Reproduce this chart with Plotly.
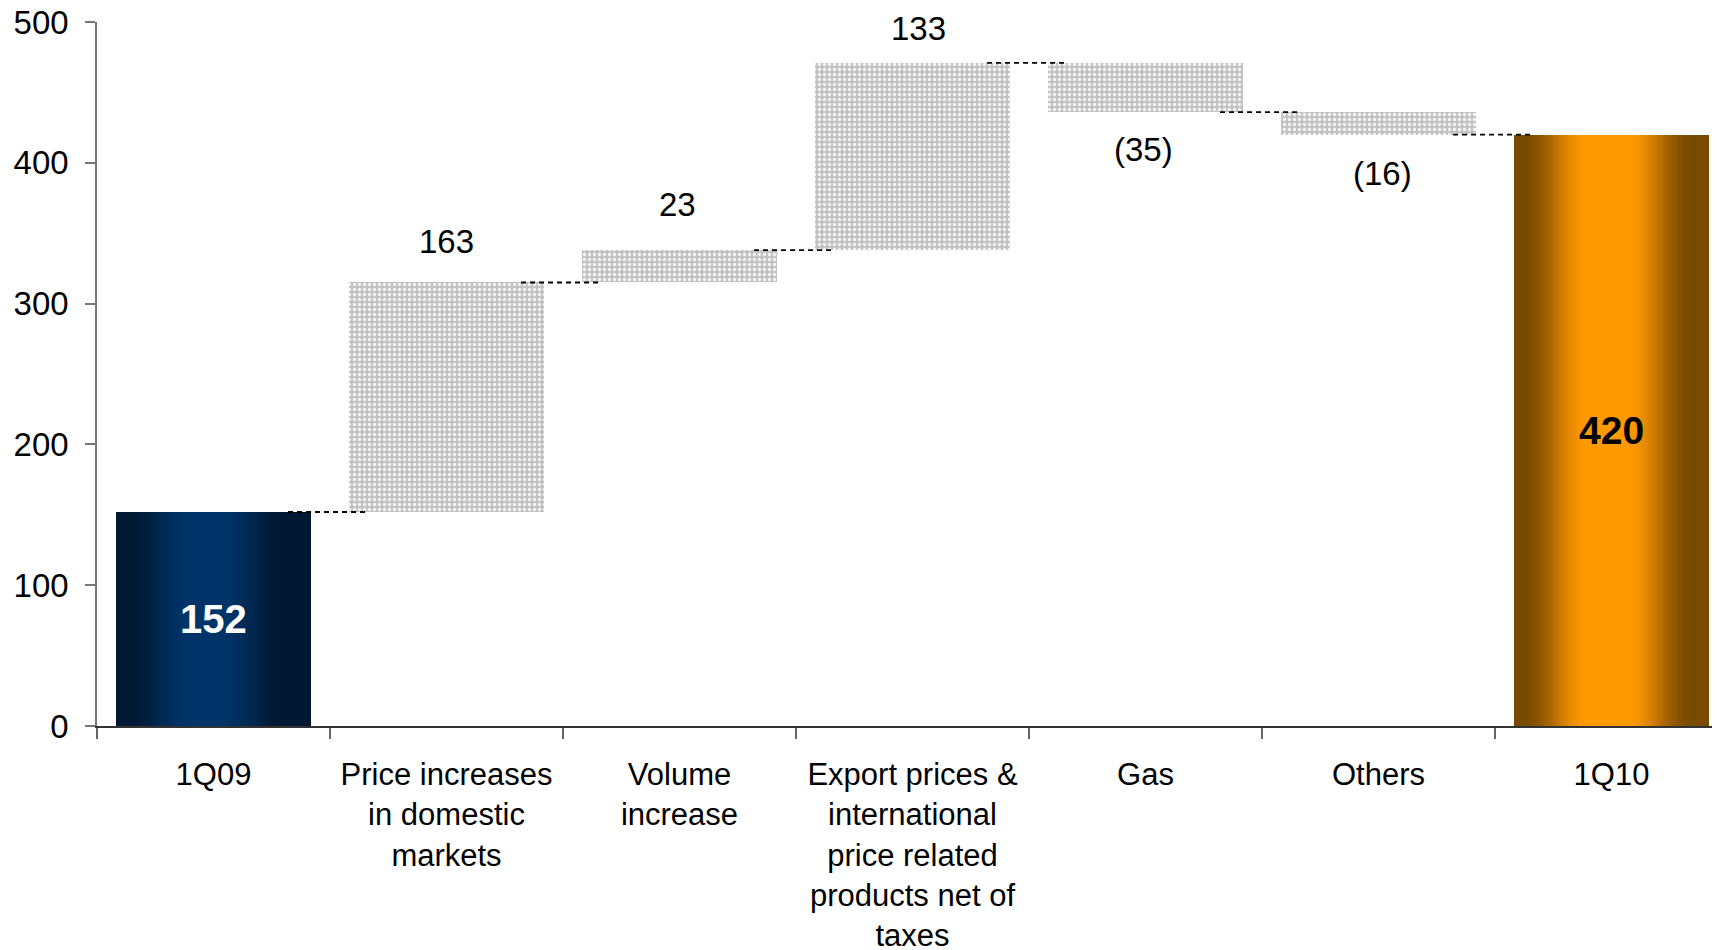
import plotly.graph_objects as go

# ---- data ----
categories = ["1Q09", "Price increases<br>in domestic<br>markets", "Volume<br>increase",
              "Export prices &<br>international<br>price related<br>products net of<br>taxes",
              "Gas", "Others", "1Q10"]
start_value = 152
deltas = [163, 23, 133, -35, -16]
end_value = 420
y_ticks = [0, 100, 200, 300, 400, 500]

# ---- style ----
FONT = "Liberation Sans, Arial, sans-serif"
BAR_W = 0.84
label_shift = [41, 46, 34, -37, -39]
label_xshift = [0, -2, 6, -2, 4]

fig = go.Figure()


def lerp(c1, c2, f):
    return "rgb(%d,%d,%d)" % tuple(round(a + (b - a) * f) for a, b in zip(c1, c2))


def gradient_bar(xpos, value, dark, bright, peak, plateau, fade, n=90):
    step = BAR_W / n
    offs, cols = [], []
    for i in range(n):
        t = (i + 0.5) / n
        d = abs(t - peak)
        if d < plateau:
            f = 1.0
        elif d > fade:
            f = 0.0
        else:
            s = (d - plateau) / (fade - plateau)
            f = 1 - (s * s * (3 - 2 * s))
        offs.append(-BAR_W / 2 + i * step)
        cols.append(lerp(dark, bright, f))
    fig.add_trace(go.Bar(
        x=[xpos] * n, y=[value] * n, base=[0] * n,
        offset=offs, width=[step * 1.6] * (n - 1) + [step],
        marker=dict(color=cols, line=dict(width=0)),
        hoverinfo="skip", showlegend=False))


# start / end gradient bars
gradient_bar(0, start_value, (1, 24, 50), (0, 52, 104), 0.46, 0.08, 0.40)
gradient_bar(len(categories) - 1, end_value, (122, 74, 0), (255, 153, 0), 0.48, 0.10, 0.43)

# floating grey bars
bases, heights, xs = [], [], []
running = start_value
totals = [running]
for i, d in enumerate(deltas):
    new = running + d
    bases.append(min(running, new))
    heights.append(abs(d))
    xs.append(i + 1)
    running = new
    totals.append(running)

fig.add_trace(go.Bar(
    x=xs, y=heights, base=bases, width=BAR_W,
    marker=dict(color="#c2c2c2", line=dict(width=0),
                pattern=dict(shape=".", fgcolor="#f4f4f4", bgcolor="#c2c2c2",
                             size=5, solidity=0.35, fillmode="replace")),
    hoverinfo="skip", showlegend=False))

# dashed connectors
cx, cy = [], []
for i, tval in enumerate(totals):
    cx += [i + 0.32, i + 0.655, None]
    cy += [tval, tval, None]
fig.add_trace(go.Scatter(x=cx, y=cy, mode="lines",
                         line=dict(color="#000000", width=1.8, dash="5px,4px"),
                         hoverinfo="skip", showlegend=False))

annotations = []
for i, d in enumerate(deltas):
    top = max(totals[i], totals[i + 1])
    bot = min(totals[i], totals[i + 1])
    txt = str(d) if d > 0 else "(%d)" % abs(d)
    annotations.append(dict(x=i + 1, y=top if d > 0 else bot, xref="x", yref="y",
                            text=txt, showarrow=False, yanchor="middle",
                            yshift=label_shift[i], xshift=label_xshift[i],
                            font=dict(family=FONT, size=33, color="#000000")))
annotations.append(dict(x=0, y=start_value / 2, xref="x", yref="y",
                        text="<b>%d</b>" % start_value, showarrow=False,
                        font=dict(family=FONT, size=40, color="#ffffff")))
annotations.append(dict(x=len(categories) - 1, y=end_value / 2, xref="x", yref="y",
                        text="<b>%d</b>" % end_value, showarrow=False,
                        font=dict(family=FONT, size=39, color="#000000")))

fig.update_layout(
    width=1720, height=950,
    margin=dict(l=89, r=0, t=14, b=232),
    paper_bgcolor="white", plot_bgcolor="white",
    barmode="overlay", bargap=0,
    font=dict(family=FONT, size=31, color="#000000"),
    annotations=annotations,
    showlegend=False,
)
fig.update_xaxes(
    range=[-0.5, 6.5], tickmode="array", automargin=False,
    tickvals=list(range(len(categories))), ticktext=categories,
    ticks="", showgrid=False, zeroline=False,
    showline=True, linecolor="#333333", linewidth=1.5,
    ticklabelstandoff=20, ticklabeloverflow="allow",
    tickfont=dict(family=FONT, size=31, color="#000000"),
    minor=dict(tickmode="array", tickvals=[i - 0.5 for i in range(len(categories))],
               ticks="outside", ticklen=11, tickcolor="#666666", tickwidth=1.5,
               showgrid=False),
)
fig.update_yaxes(
    range=[0, 500], tickmode="array", tickvals=y_ticks, automargin=False,
    ticks="outside", ticklen=10, tickcolor="#777777", tickwidth=1.5,
    showgrid=False, zeroline=False,
    showline=True, linecolor="#777777", linewidth=1.5,
    ticklabelstandoff=10, ticklabeloverflow="allow",
    tickfont=dict(family=FONT, size=33, color="#000000"),
)

fig.write_html("out.html")
